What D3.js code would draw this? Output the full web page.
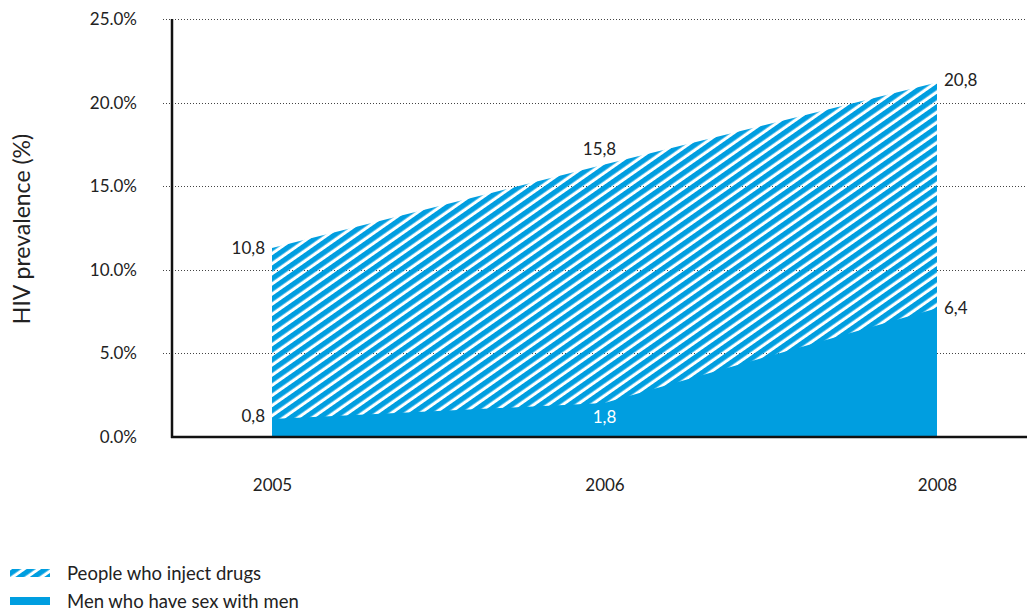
<!DOCTYPE html>
<html><head><meta charset="utf-8">
<script src="https://cdn.jsdelivr.net/npm/d3@7"></script>
<style>
body{margin:0;background:#fff;}
text{font-family:Lato,"Open Sans",sans-serif;fill:#222;}
</style></head>
<body><svg id="c" width="1027" height="612"></svg>
<script>
const years = ["2005","2006","2008"];
const drugs = [11.3, 16.3, 21.2];
const msm = [1.08, 2.03, 7.7];
const drugsLabels = ["10,8","15,8","20,8"];
const msmLabels = ["0,8","1,8","6,4"];
const yTicks = [0,5,10,15,20,25];
const seriesNames = ["People who inject drugs","Men who have sex with men"];
const blue = "#009ee0";

const svg = d3.select("#c");
const x = d3.scalePoint().domain(years).range([272,937]);
const y = d3.scaleLinear().domain([0,25]).range([437,19]);

const defs = svg.append("defs");
const pat = defs.append("pattern").attr("id","hatch").attr("patternUnits","userSpaceOnUse")
  .attr("width",10).attr("height",8.3).attr("patternTransform","rotate(-35)");
pat.append("rect").attr("x",0).attr("y",0).attr("width",10).attr("height",5.2).attr("fill",blue);

// gridlines
svg.append("g").selectAll("line").data(yTicks.filter(d=>d>0)).join("line")
  .attr("x1",163).attr("x2",1027).attr("y1",d=>Math.round(y(d))+0.5).attr("y2",d=>Math.round(y(d))+0.5)
  .attr("stroke","#444").attr("stroke-width",1).attr("stroke-dasharray","1,2");

const data = years.map((yr,i)=>({yr, d:drugs[i], m:msm[i]}));
const areaD = d3.area().x(d=>x(d.yr)).y0(y(0)).y1(d=>y(d.d));
const areaM = d3.area().x(d=>x(d.yr)).y0(y(0)).y1(d=>y(d.m));
svg.append("path").datum(data).attr("d",areaD).attr("fill","url(#hatch)");
svg.append("path").datum(data).attr("d",areaM).attr("fill",blue);

// axes
svg.append("line").attr("x1",172).attr("x2",172).attr("y1",19).attr("y2",438).attr("stroke","#111").attr("stroke-width",2.5);
svg.append("line").attr("x1",171).attr("x2",1027).attr("y1",437).attr("y2",437).attr("stroke","#111").attr("stroke-width",2.5);

const yAxis = svg.append("g").attr("transform","translate(172,0)")
  .call(d3.axisLeft(y).tickValues(yTicks).tickSize(0).tickPadding(35).tickFormat(d=>d.toFixed(1)+"%"));
yAxis.select(".domain").remove();
yAxis.selectAll("text").attr("font-size",17).attr("fill","#222").style("font-family","Lato,sans-serif");

const xAxis = svg.append("g").attr("transform","translate(0,485)")
  .call(d3.axisBottom(x).tickSize(0).tickPadding(0));
xAxis.select(".domain").remove();
xAxis.selectAll("text").attr("font-size",17).attr("dy","0.35em").attr("fill","#222")
  .style("font-family","Lato,sans-serif");

svg.append("text").attr("transform","translate(30,229) rotate(-90)").attr("text-anchor","middle")
  .attr("font-size",23).text("HIV prevalence (%)");

// data labels
const lab = svg.append("g").attr("font-size",17);
lab.append("text").attr("x",x("2005")-7).attr("y",y(drugs[0])).attr("dy","0.35em").attr("text-anchor","end").text(drugsLabels[0]);
lab.append("text").attr("x",x("2005")-7).attr("y",y(msm[0])-3).attr("dy","0.35em").attr("text-anchor","end").text(msmLabels[0]);
lab.append("text").attr("x",x("2006")-5).attr("y",y(drugs[1])-15).attr("dy","0.35em").attr("text-anchor","middle").text(drugsLabels[1]);
lab.append("text").attr("x",x("2006")).attr("y",y(msm[1])+14).attr("dy","0.35em").attr("text-anchor","middle").style("fill","#fff").text(msmLabels[1]);
lab.append("text").attr("x",x("2008")+7).attr("y",y(drugs[2])-2).attr("dy","0.35em").attr("text-anchor","start").text(drugsLabels[2]);
lab.append("text").attr("x",x("2008")+7).attr("y",y(msm[2])).attr("dy","0.35em").attr("text-anchor","start").text(msmLabels[2]);

// legend
const leg = svg.append("g");
leg.append("rect").attr("x",10).attr("y",569).attr("width",40).attr("height",8).attr("fill","url(#hatch)");
leg.append("rect").attr("x",10).attr("y",597).attr("width",40).attr("height",8).attr("fill",blue);
leg.selectAll("text").data(seriesNames).join("text").attr("x",67).attr("y",(d,i)=>574+i*28)
  .attr("dy","0.35em").attr("font-size",18.5).text(d=>d);
</script></body></html>
